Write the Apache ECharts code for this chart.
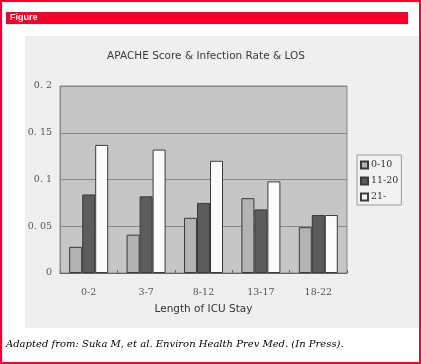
<!DOCTYPE html>
<html><head><meta charset="utf-8">
<script src="https://cdn.jsdelivr.net/npm/echarts@6/dist/echarts.min.js"></script>
<style>html,body{margin:0;padding:0;background:#fff}#c{width:421px;height:364px}</style>
</head><body><div id="c"></div>
<script>
const categories = ['0-2', '3-7', '8-12', '13-17', '18-22'];
const seriesNames = ['0-10', '11-20', '21-'];
const s0_10 = [0.028, 0.041, 0.059, 0.080, 0.049];
const s11_20 = [0.084, 0.082, 0.075, 0.068, 0.062];
const s21 = [0.137, 0.132, 0.120, 0.098, 0.062];
const yTickLabels = { 0: '0', 0.05: '0. 05', 0.1: '0. 1', 0.15: '0. 15', 0.2: '0. 2' };

const colors = ['#b3b3b3', '#5c5c5c', '#fbfbfb'];
const dataSets = [s0_10, s11_20, s21];
const chart = echarts.init(document.getElementById('c'), null, { renderer: 'canvas' });
chart.setOption({
  animation: false,
  backgroundColor: '#ffffff',
  title: {
    text: 'APACHE Score & Infection Rate & LOS',
    left: 201, top: 46, textAlign: 'center',
    textStyle: { fontFamily: 'DejaVu Sans', fontSize: 10.5, fontWeight: 'normal', color: '#3a3a3a' }
  },
  graphic: [
    { type: 'rect', shape: { x: 25, y: 36, width: 396, height: 292 }, style: { fill: '#efefef' }, z: -10 },
    { type: 'rect', shape: { x: 6, y: 12, width: 402, height: 12 }, style: { fill: '#f5002b' } },
    { type: 'text', x: 10, y: 13, style: { text: 'Figure', fill: '#fff', font: 'bold 9px Liberation Sans' } },
    { type: 'rect', shape: { x: 1, y: 1, width: 419, height: 362 }, style: { fill: 'none', stroke: '#f5002b', lineWidth: 2 }, z: 100 },
    { type: 'text', x: 6, y: 339, style: { text: 'Adapted from: Suka M, et al. Environ Health Prev Med. (In Press).', fill: '#000', font: 'italic 10px DejaVu Serif' } }
  ],
  legend: {
    orient: 'vertical', left: 357, top: 155,
    data: seriesNames,
    icon: 'rect', itemWidth: 7, itemHeight: 7, itemGap: 6,
    padding: [5, 3, 3, 3],
    backgroundColor: '#f2f2f2', borderColor: '#999', borderWidth: 1,
    textStyle: { fontFamily: 'DejaVu Serif', fontSize: 9.5, color: '#333', padding: [0, 0, 0, -2] }
  },
  grid: {
    left: 60, top: 86, width: 287, height: 187,
    show: true, backgroundColor: '#c6c6c6', borderColor: '#888', borderWidth: 1
  },
  xAxis: {
    type: 'category', data: categories,
    name: 'Length of ICU Stay', nameLocation: 'middle', nameGap: 31,
    nameTextStyle: { fontFamily: 'DejaVu Sans', fontSize: 10.5, color: '#333' },
    axisLine: { lineStyle: { color: '#666' } },
    axisTick: { show: true, inside: true, length: 3, lineStyle: { color: '#666' } },
    axisLabel: { fontFamily: 'DejaVu Serif', fontSize: 9.5, color: '#555', margin: 15 }
  },
  yAxis: {
    type: 'value', min: 0, max: 0.2, interval: 0.05,
    axisLine: { show: true, lineStyle: { color: '#888' } },
    axisTick: { show: false },
    splitLine: { lineStyle: { color: '#888', width: 1 } },
    axisLabel: {
      fontFamily: 'DejaVu Serif', fontSize: 9.5, color: '#555', margin: 8,
      formatter: v => yTickLabels[Math.round(v * 100) / 100] ?? String(v)
    }
  },
  series: seriesNames.map((n, i) => ({
    name: n, type: 'bar', data: dataSets[i],
    barWidth: 13, barGap: '0%',
    itemStyle: { color: colors[i], borderColor: '#3a3a3a', borderWidth: 1 }
  }))
});
</script></body></html>
